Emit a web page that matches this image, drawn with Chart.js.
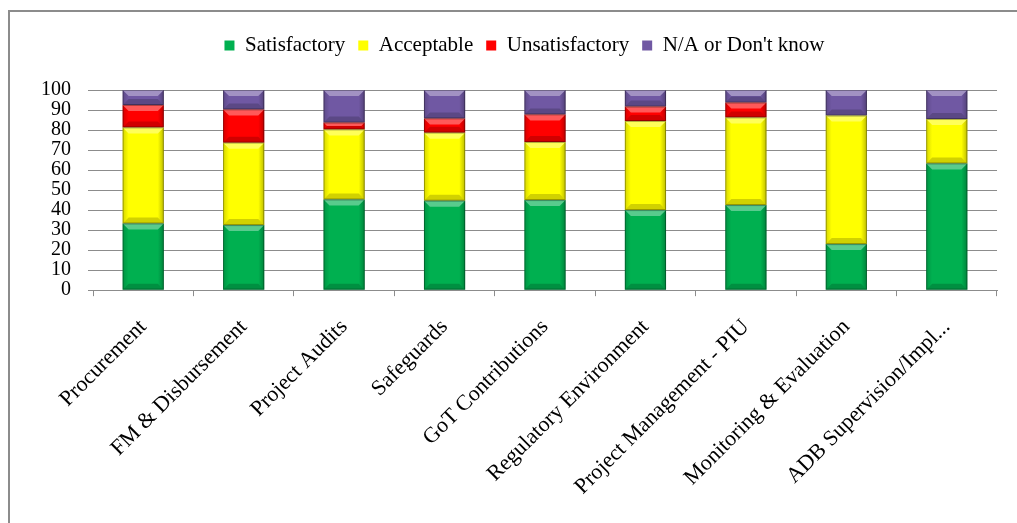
<!DOCTYPE html>
<html>
<head>
<meta charset="utf-8">
<title>Ratings by area</title>
<script src="https://cdn.jsdelivr.net/npm/chart.js@4.4.1/dist/chart.umd.min.js"></script>
<style>
  html, body { margin: 0; padding: 0; background: #fff; }
  #wrap { position: relative; width: 1017px; height: 523px; }
</style>
</head>
<body>
<div id="wrap"><canvas id="chart"></canvas></div>
<script>
// Assessment areas along the x axis
const categories = [
  'Procurement',
  'FM & Disbursement',
  'Project Audits',
  'Safeguards',
  'GoT Contributions',
  'Regulatory Environment',
  'Project Management - PIU',
  'Monitoring & Evaluation',
  'ADB Supervision/Impl...'
];

// Share of responses (%) per rating
const satisfactory   = [33.3, 32.5, 45.3, 44.7, 45.0, 40.0, 42.5, 23.0, 63.3];
const acceptable     = [48.0, 41.2, 35.0, 34.0, 29.0, 44.5, 43.8, 64.2, 22.2];
const unsatisfactory = [11.2, 16.6,  3.4,  7.1, 13.8,  7.2,  7.4,  0.0,  0.0];
const notKnown       = [ 7.5,  9.7, 16.3, 14.2, 12.2,  8.3,  6.3, 12.8, 14.5];

const seriesNames = ['Satisfactory', 'Acceptable', 'Unsatisfactory', 'N/A or Don\'t know'];
const yTicks = [0, 10, 20, 30, 40, 50, 60, 70, 80, 90, 100];

const SERIF = "Liberation Serif";
Chart.defaults.font.family = SERIF;
Chart.defaults.color = '#000';

// Bevelled look for each bar segment
const bevelPlugin = {
  id: 'bevel',
  afterDatasetsDraw(chart) {
    const ctx = chart.ctx;
    chart.data.datasets.forEach((ds, i) => {
      const meta = chart.getDatasetMeta(i);
      if (meta.hidden) return;
      meta.data.forEach(el => {
        const p = el.getProps(['x', 'y', 'base', 'width'], true);
        const L = p.x - p.width / 2, R = p.x + p.width / 2;
        const T = Math.min(p.y, p.base), B = Math.max(p.y, p.base);
        const h = B - T;
        if (h < 1) return;
        const b = Math.min(6, h / 2);
        ctx.save();
        // top highlight
        ctx.beginPath();
        ctx.moveTo(L, T); ctx.lineTo(R, T); ctx.lineTo(R - b, T + b); ctx.lineTo(L + b, T + b); ctx.closePath();
        ctx.fillStyle = 'rgba(255,255,255,0.35)';
        ctx.fill();
        // bottom shade
        ctx.beginPath();
        ctx.moveTo(L, B); ctx.lineTo(R, B); ctx.lineTo(R - b, B - b); ctx.lineTo(L + b, B - b); ctx.closePath();
        ctx.fillStyle = 'rgba(0,0,0,0.18)';
        ctx.fill();
        // left side
        let g = ctx.createLinearGradient(L, 0, L + b, 0);
        g.addColorStop(0, 'rgba(0,0,0,0.16)');
        g.addColorStop(1, 'rgba(0,0,0,0)');
        ctx.fillStyle = g;
        ctx.beginPath();
        ctx.moveTo(L, T); ctx.lineTo(L + b, T + b); ctx.lineTo(L + b, B - b); ctx.lineTo(L, B); ctx.closePath();
        ctx.fill();
        // right side
        g = ctx.createLinearGradient(R, 0, R - b, 0);
        g.addColorStop(0, 'rgba(0,0,0,0.26)');
        g.addColorStop(1, 'rgba(0,0,0,0)');
        ctx.fillStyle = g;
        ctx.beginPath();
        ctx.moveTo(R, T); ctx.lineTo(R - b, T + b); ctx.lineTo(R - b, B - b); ctx.lineTo(R, B); ctx.closePath();
        ctx.fill();
        // outline
        ctx.strokeStyle = 'rgba(0,0,0,0.30)';
        ctx.lineWidth = 1;
        ctx.strokeRect(L + 0.5, T + 0.5, p.width - 1, h - 1);
        ctx.restore();
      });
    });
  }
};

// Frame lines on the left and top of the figure
const framePlugin = {
  id: 'frame',
  beforeDraw(chart) {
    const ctx = chart.ctx;
    ctx.save();
    ctx.fillStyle = '#ffffff';
    ctx.fillRect(0, 0, chart.width, chart.height);
    ctx.fillStyle = '#8c8c8c';
    ctx.fillRect(8, 10, chart.width - 8, 2);
    ctx.fillRect(8, 10, 2, chart.height - 10);
    ctx.restore();
  }
};

// Extra gap below the legend, and the legend centred over the plot area
const legendLayoutPlugin = {
  id: 'legendLayout',
  beforeInit(chart) {
    const legend = chart.legend;
    const origFit = legend.fit;
    legend.fit = function () {
      origFit.call(this);
      this.height += 24;
    };
    const origDraw = legend.draw;
    legend.draw = function () {
      const ctx = this.ctx;
      ctx.save();
      ctx.translate(14, 0);
      origDraw.call(this);
      ctx.restore();
    };
  }
};

const colors = ['#00b050', '#ffff00', '#ff0000', '#7058a3'];
const values = [satisfactory, acceptable, unsatisfactory, notKnown];

new Chart(document.getElementById('chart'), {
  type: 'bar',
  data: {
    labels: categories,
    datasets: seriesNames.map((name, i) => ({
      label: name,
      data: values[i],
      backgroundColor: colors[i],
      borderWidth: 0,
      barPercentage: 0.41,
      categoryPercentage: 1.0
    }))
  },
  options: {
    responsive: true,
    maintainAspectRatio: false,
    animation: false,
    layout: { padding: { top: 22, left: 24, right: 20, bottom: 5 } },
    plugins: {
      legend: {
        position: 'top',
        labels: {
          font: { family: SERIF, size: 21 },
          color: '#000',
          boxWidth: 10,
          boxHeight: 10,
          padding: 13
        }
      },
      tooltip: { enabled: false }
    },
    scales: {
      x: {
        stacked: true,
        // rotated labels end at their tick, so no extra room is needed on the left
        afterFit(scale) { scale.paddingLeft = 0; },
        grid: {
          display: true,
          drawOnChartArea: false,
          drawTicks: true,
          tickLength: 6,
          color: '#8c8c8c',
          offset: true
        },
        border: { display: true, color: '#8c8c8c' },
        ticks: {
          font: { family: SERIF, size: 22 },
          color: '#000',
          maxRotation: 45,
          minRotation: 45,
          autoSkip: false,
          padding: 18
        }
      },
      y: {
        stacked: true,
        min: 0,
        max: 100,
        afterBuildTicks(scale) { scale.ticks = yTicks.map(v => ({ value: v })); },
        grid: { color: '#8c8c8c', tickLength: 5 },
        border: { display: false },
        ticks: {
          font: { family: SERIF, size: 20 },
          color: '#000',
          padding: 17,
          autoSkip: false
        }
      }
    }
  },
  plugins: [framePlugin, legendLayoutPlugin, bevelPlugin]
});
</script>
</body>
</html>
